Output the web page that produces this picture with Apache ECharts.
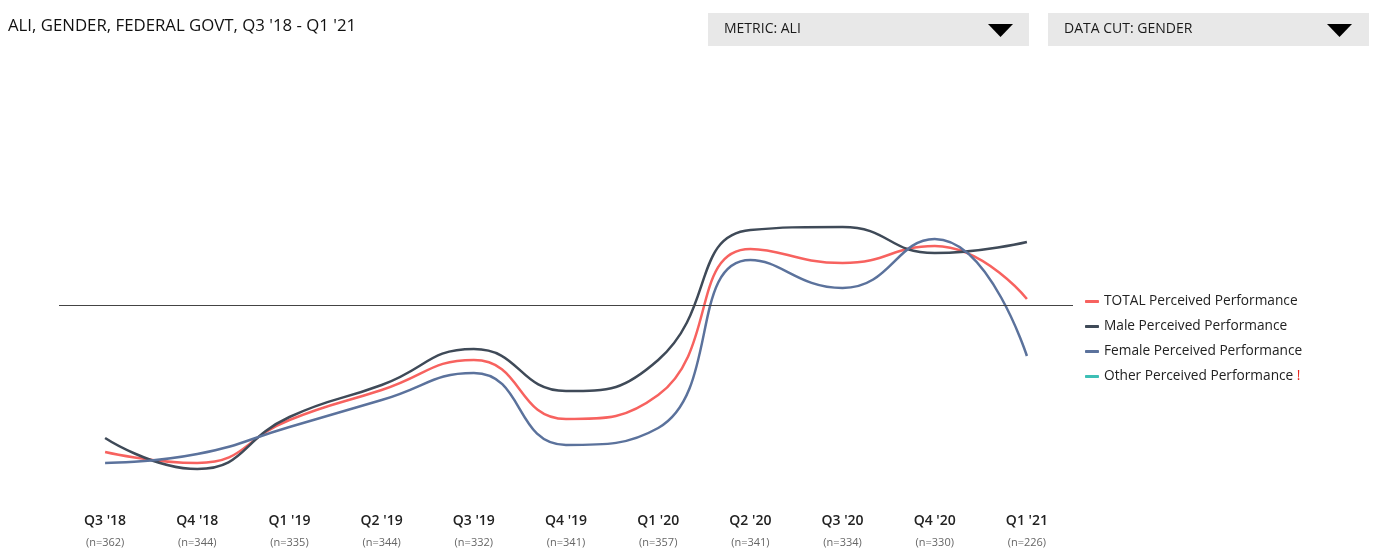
<!DOCTYPE html>
<html><head><meta charset="utf-8">
<script src="https://cdn.jsdelivr.net/npm/echarts@6/dist/echarts.min.js"></script>
<style>html,body{margin:0;padding:0;background:#fff}#c{width:1379px;height:560px}</style>
</head><body><div id="c"></div>
<script>
const categories = ["Q3 '18","Q4 '18","Q1 '19","Q2 '19","Q3 '19","Q4 '19","Q1 '20","Q2 '20","Q3 '20","Q4 '20","Q1 '21"];
const sampleSizes = [362,344,335,344,332,341,357,341,334,330,226];
const totalValues  = [12, 9.25, 20, 27.5, 35, 20.25, 26.25, 62.75, 59.25, 63.5, 50.25];
const maleValues   = [15.5, 7.75, 20.75, 28.75, 37.75, 27.25, 35, 67.5, 68.25, 61.75, 64.5];
const femaleValues = [9.25, 11.5, 18.25, 25, 31.75, 13.75, 18, 60, 53, 65.25, 36];
const otherValues  = [];
const benchmark = 48.75;
const seriesNames = ['TOTAL Perceived Performance','Male Perceived Performance','Female Perceived Performance','Other Perceived Performance'];
const seriesColors = ['#f7625f','#3f4a58','#5b729c','#3dbfb5'];
const FONT = '"Open Sans", "Noto Sans", sans-serif';

const chart = echarts.init(document.getElementById('c'), null, {renderer:'canvas'});
function mk(i, data){
  const s = {name: seriesNames[i], type:'line', data:data, smooth:0.5, symbol:'none',
    lineStyle:{color:seriesColors[i], width:2.5}, itemStyle:{color:seriesColors[i]}};
  if(i===0){
    s.markLine = {silent:true, symbol:'none', label:{show:false},
      lineStyle:{color:'#444', width:1, type:'solid'}, data:[{yAxis:benchmark}]};
  }
  return s;
}
chart.setOption({
  animation:false,
  title:{text:"ALI, GENDER, FEDERAL GOVT, Q3 '18 - Q1 '21", left:3, top:13,
    textStyle:{fontFamily:FONT, fontSize:16.8, fontWeight:'normal', color:'#111'}},
  graphic:[
    {type:'rect', shape:{x:708,y:13,width:321,height:33}, style:{fill:'#e8e8e8'}},
    {type:'text', x:724, y:29, style:{text:'METRIC: ALI', font:'14px '+FONT, fill:'#1a1a1a', verticalAlign:'middle'}},
    {type:'polygon', shape:{points:[[988,24],[1013,24],[1000.5,37]]}, style:{fill:'#000'}},
    {type:'rect', shape:{x:1048,y:13,width:321,height:33}, style:{fill:'#e8e8e8'}},
    {type:'text', x:1064, y:29, style:{text:'DATA CUT: GENDER', font:'14px '+FONT, fill:'#1a1a1a', verticalAlign:'middle'}},
    {type:'polygon', shape:{points:[[1327,24],[1352,24],[1339.5,37]]}, style:{fill:'#000'}}
  ],
  legend:{orient:'vertical', left:1080, top:288, itemGap:8, itemWidth:14, itemHeight:3, icon:'roundRect',
    data:seriesNames,
    formatter:function(n){ return n===seriesNames[3] ? n+' {w|!}' : n; },
    textStyle:{fontFamily:FONT, fontSize:13.7, color:'#222', lineHeight:17,
      rich:{w:{color:'#e8241c', fontSize:13.7, fontFamily:FONT}}}},
  grid:{left:59, right:306, top:100, bottom:60},
  xAxis:{type:'category', data:categories, boundaryGap:true,
    axisLine:{show:false}, axisTick:{show:false}, splitLine:{show:false},
    axisLabel:{margin:11, interval:0,
      formatter:function(v, idx){ return '{a|'+v+'}\n{b|(n='+sampleSizes[idx]+')}'; },
      rich:{a:{fontFamily:FONT, fontSize:14, fontWeight:600, color:'#222', lineHeight:21},
            b:{fontFamily:FONT, fontSize:11, color:'#666', lineHeight:21}}}},
  yAxis:{type:'value', min:0, max:100, show:false, splitLine:{show:false}},
  series:[mk(0,totalValues), mk(1,maleValues), mk(2,femaleValues), mk(3,otherValues)]
});
</script></body></html>
